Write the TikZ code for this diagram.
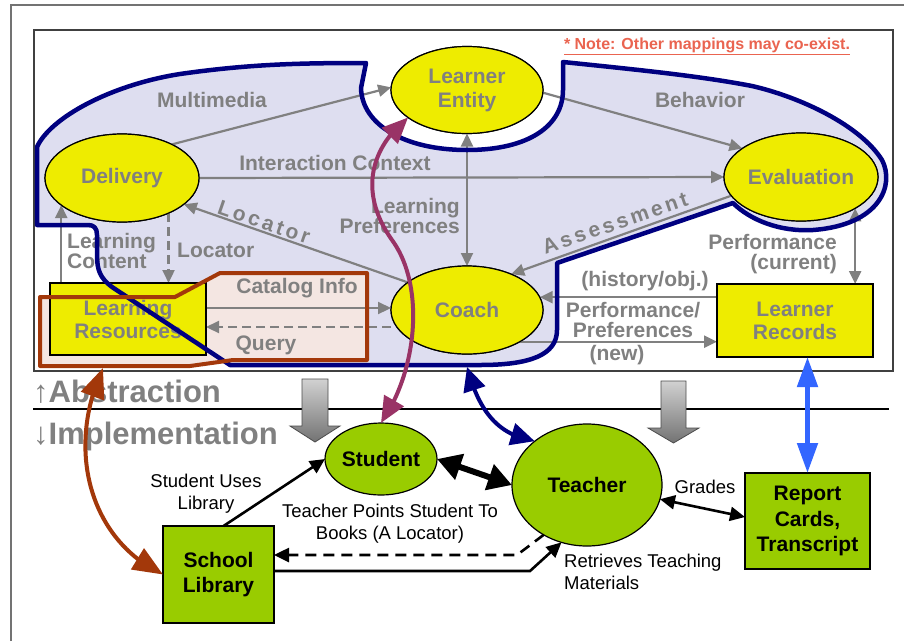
\documentclass[tikz,border=0pt]{standalone}
\usepackage{fontspec}
\setmainfont{Liberation Sans}
\usetikzlibrary{arrows.meta,shapes.geometric,bending}
\definecolor{gtext}{RGB}{128,128,128}
\definecolor{yel}{RGB}{238,236,0}
\definecolor{grn}{RGB}{153,204,0}
\definecolor{navyb}{RGB}{0,0,128}
\definecolor{rust}{RGB}{163,56,10}
\definecolor{blobfill}{RGB}{222,222,240}
\definecolor{rustfill}{RGB}{244,230,226}
\definecolor{mag}{RGB}{153,51,102}
\definecolor{brt}{RGB}{51,102,255}
\definecolor{notec}{RGB}{234,100,80}
\begin{document}
\begin{tikzpicture}[x=1pt,y=-1pt,
  yell/.style={ellipse, draw=black, line width=1.2pt, fill=yel, inner sep=0pt, outer sep=0pt, text=gtext, font=\fontsize{21}{24}\selectfont\bfseries, align=center},
  yrect/.style={rectangle, draw=black, line width=1.2pt, fill=yel, inner sep=0pt, outer sep=0pt, text=gtext, font=\fontsize{21}{23}\selectfont\bfseries, align=center},
  gell/.style={ellipse, draw=black, line width=1.2pt, fill=grn, inner sep=0pt, outer sep=0pt, text=black, font=\fontsize{21}{25}\selectfont\bfseries, align=center},
  grect/.style={rectangle, draw=black, line width=1.2pt, fill=grn, inner sep=0pt, outer sep=0pt, text=black, font=\fontsize{21}{25.5}\selectfont\bfseries, align=center},
  glabel/.style={text=gtext, font=\fontsize{21}{20}\selectfont\bfseries, inner sep=0pt, align=center},
  blabel/.style={text=black, font=\fontsize{18.5}{22}\selectfont, inner sep=0pt, align=center},
  garrow/.style={draw=gtext, line width=2.2pt, -{Triangle[length=13pt,width=12pt]}},
  garrowb/.style={draw=gtext, line width=2.2pt, {Triangle[length=13pt,width=12pt]}-{Triangle[length=13pt,width=12pt]}},
  barrow/.style={draw=black, line width=2.6pt, -{Triangle[length=15pt,width=14pt]}},
  gdash/.style={dash pattern=on 9pt off 5pt},
  bdash/.style={dash pattern=on 11pt off 7pt},
  blockarrow/.style={top color=black!18, bottom color=black!55, draw=black!70, line width=0.8pt}
]
\useasboundingbox (0,0) rectangle (904,641);
\fill[white] (0,0) rectangle (904,641);
% frames
\draw[line width=1.3pt, draw=black!55] (11,641) -- (11,5) -- (904,5);
\draw[line width=1.6pt, draw=black!75, fill=white] (34,30) rectangle (893,371);

% blob fill
\fill[blobfill] (37,147) .. controls (50,118) and (110,85) .. (180,74) .. controls (250,64) and (300,63) .. (366,63) -- (361,88) .. controls (362,125) and (405,150) .. (467,150) .. controls (530,150) and (563,125) .. (563,90) -- (563,62) .. controls (640,70) and (700,76) .. (752,86) .. controls (800,97) and (860,125) .. (882,160) .. controls (895,185) and (880,225) .. (813,230) .. controls (780,232) and (750,220) .. (733,203) -- (557,263) -- (557,330) .. controls (557,355) and (530,365) .. (480,365) -- (230,365) -- (112,287) .. controls (100,278) and (97,270) .. (97,255) -- (97,235) .. controls (97,228) and (94,225) .. (88,225) -- (37,225) -- cycle;
% rust region fill
\fill[rustfill] (40,297) -- (175,297) -- (220,273) -- (367,273) -- (367,360) -- (233,360) -- (190,366) -- (40,366) -- cycle;

% nodes (abstraction level)
\node[yell, minimum width=152pt, minimum height=87pt] (le) at (467,90) {Learner\\Entity};
\node[yell, minimum width=154pt, minimum height=88pt] (deliv) at (122,178) {Delivery};
\node[yell, minimum width=154pt, minimum height=88pt] (eval) at (801,177) {Evaluation};
\node[yell, minimum width=152pt, minimum height=88pt] (coach) at (467,310) {Coach};
\node[yrect, minimum width=156pt, minimum height=72pt] (lr) at (128,319) {Learning\\Resources};
\node[yrect, minimum width=156pt, minimum height=73pt] (rec) at (795,320.5) {Learner\\Records};

% helper coordinates
\coordinate (cat1) at ([yshift=11pt]lr.east);
\coordinate (qry1) at ([yshift=-8pt]lr.east);

% gray connectors
\draw[garrow] (deliv.34) -- (le.178);
\draw[garrow] (le.-2) -- (eval.154);
\draw[garrow] (deliv.east) -- (eval.west);
\draw[garrowb] (le.south) -- (coach.north);
\draw[garrow] (coach.155) -- (deliv.-23);
\draw[garrow] (eval.195.5) -- (coach.39.4);
\draw[garrow] (deliv.204 |- lr.north) -- (deliv.204);
\draw[garrow, gdash] (deliv.-37.5) -- (deliv.-37.5 |- lr.north);
\draw[garrow] (cat1) -- (cat1 -| coach.west);
\draw[garrow, gdash] (qry1 -| coach.west) -- (qry1);
\draw[garrow] (rec.west |- coach.10) -- (coach.10);
\draw[garrow] (coach.-31.6) -- (coach.-31.6 -| rec.west);
\draw[garrowb] (eval.-30.2) -- (eval.-30.2 |- rec.north);

% redraw nodes on top of connector tails
\node[yell, minimum width=152pt, minimum height=87pt] at (le) {Learner\\Entity};
\node[yell, minimum width=154pt, minimum height=88pt] at (deliv) {Delivery};
\node[yell, minimum width=154pt, minimum height=88pt] at (eval) {Evaluation};
\node[yell, minimum width=152pt, minimum height=88pt] at (coach) {Coach};
\node[yrect, minimum width=156pt, minimum height=72pt] at (lr) {Learning\\Resources};
\node[yrect, minimum width=156pt, minimum height=73pt] at (rec) {Learner\\Records};

% gray labels
\node[glabel] (tmm) at (212,100) {Multimedia};
\node[glabel] (tbeh) at (700,100) {Behavior};
\node[glabel] (tic) at (335,163) {Interaction Context};
\node[glabel, anchor=east, align=right] (tlp) at (460,216) {Learning\\Preferences};
\node[glabel, rotate=-19] (tloc1) at (264,222) {\addfontfeature{LetterSpace=15}Locator};
\node[glabel, rotate=19] (tass) at (615,223) {\addfontfeature{LetterSpace=15}Assessment};
\node[glabel, anchor=west, align=left] (tlc) at (67,251) {Learning\\Content};
\node[glabel, anchor=west] (tloc2) at (177,250) {Locator};
\node[glabel] (tcat) at (297,288) {Catalog Info};
\node[glabel] (tq) at (266,345) {Query};
\node[glabel] (thist) at (645,281) {(history/obj.)};
\node[glabel] (tpp) at (633,320) {Performance/\\Preferences};
\node[glabel] (tnew) at (617,355) {(new)};
\node[glabel, anchor=east, align=right] (tpc) at (837,254) {Performance\\(current)};
\node[font=\fontsize{16}{18}\selectfont\bfseries, text=notec, inner sep=0pt] (note) at (707,46) {\underline{* Note: Other mappings may co-exist.}};

% outlines
\draw[navyb, line width=4.5pt, line join=round] (37,147) .. controls (50,118) and (110,85) .. (180,74) .. controls (250,64) and (300,63) .. (366,63) -- (361,88) .. controls (362,125) and (405,150) .. (467,150) .. controls (530,150) and (563,125) .. (563,90) -- (563,62) .. controls (640,70) and (700,76) .. (752,86) .. controls (800,97) and (860,125) .. (882,160) .. controls (895,185) and (880,225) .. (813,230) .. controls (780,232) and (750,220) .. (733,203) -- (557,263) -- (557,330) .. controls (557,355) and (530,365) .. (480,365) -- (230,365) -- (112,287) .. controls (100,278) and (97,270) .. (97,255) -- (97,235) .. controls (97,228) and (94,225) .. (88,225) -- (37,225) -- cycle;
\draw[rust, line width=4pt, line join=round] (40,297) -- (175,297) -- (220,273) -- (367,273) -- (367,360) -- (233,360) -- (190,366) -- (40,366) -- cycle;

% level divider
\draw[line width=2.5pt] (33,409) -- (889,409);
\node[font=\fontsize{31}{31}\selectfont\bfseries, text=gtext, anchor=base west, inner sep=0pt] (abs) at (33,402.5) {↑Abstraction};
\node[font=\fontsize{31}{31}\selectfont\bfseries, text=gtext, anchor=base west, inner sep=0pt] (impl) at (33,444) {↓Implementation};
\shade[blockarrow] (302,379) -- (328,379) -- (328,426) -- (340,426) -- (315,442) -- (290,426) -- (302,426) -- cycle;
\shade[blockarrow] (661,381) -- (686,381) -- (686,428) -- (699,428) -- (673.5,443) -- (648,428) -- (661,428) -- cycle;

% implementation nodes
\node[gell, minimum width=112pt, minimum height=72pt] (stud) at (381,459) {Student};
\node[gell, minimum width=150pt, minimum height=122pt] (teach) at (587,485) {Teacher};
\node[grect, minimum width=111pt, minimum height=97pt] (lib) at (218.5,574.5) {School\\Library};
\node[grect, minimum width=125pt, minimum height=96pt] (rep) at (807.5,521) {Report\\Cards,\\Transcript};

\coordinate (b1) at (517,555);
\coordinate (b2) at (530,571);
\draw[barrow] ([xshift=5pt]lib.north) -- (stud.west);
\draw[draw=black, line width=6pt, {Triangle[length=24pt,width=26pt]}-{Triangle[length=24pt,width=26pt]}] (stud.east) -- (teach.west);
\draw[barrow, bdash] (teach.229) -- (b1) -- (b1 -| lib.east);
\draw[barrow] (b2 -| lib.east) -- (b2) -- (teach.246);
\draw[draw=black, line width=2.6pt, {Triangle[length=15pt,width=14pt]}-{Triangle[length=15pt,width=14pt]}] (teach.-11) -- ([yshift=4pt]rep.west);

\node[blabel] (tsul) at (206,494) {Student Uses\\Library};
\node[blabel] (ttp) at (390,524) {Teacher Points Student To\\Books (A Locator)};
\node[blabel, anchor=west, align=left] (tret) at (564,572) {Retrieves Teaching\\Materials};
\node[blabel] (tgr) at (705,487) {Grades};

% cross-level mappings
\coordinate (brbot) at (103,368);
\coordinate (nvtop) at (467,367);
\draw[line width=4pt, draw=rust, {Triangle[length=30pt,width=24pt]}-{Triangle[length=30pt,width=24pt]}] (brbot) .. controls (65,450) and (90,540) .. (lib.west);
\draw[line width=4pt, draw=mag, {Triangle[length=26pt,width=22pt]}-{Triangle[length=26pt,width=22pt]}] (le.205) .. controls (368,150) and (360,195) .. (392,240) .. controls (425,285) and (418,370) .. (stud.north);
\draw[line width=4pt, draw=navyb, {Triangle[length=24pt,width=22pt]}-{Triangle[length=24pt,width=22pt]}] (nvtop) .. controls (480,415) and (500,435) .. (teach.140);
\draw[line width=5pt, draw=brt, {Triangle[length=30pt,width=20pt]}-{Triangle[length=30pt,width=20pt]}] (rep.north |- rec.south) -- (rep.north);
\end{tikzpicture}
\end{document}
